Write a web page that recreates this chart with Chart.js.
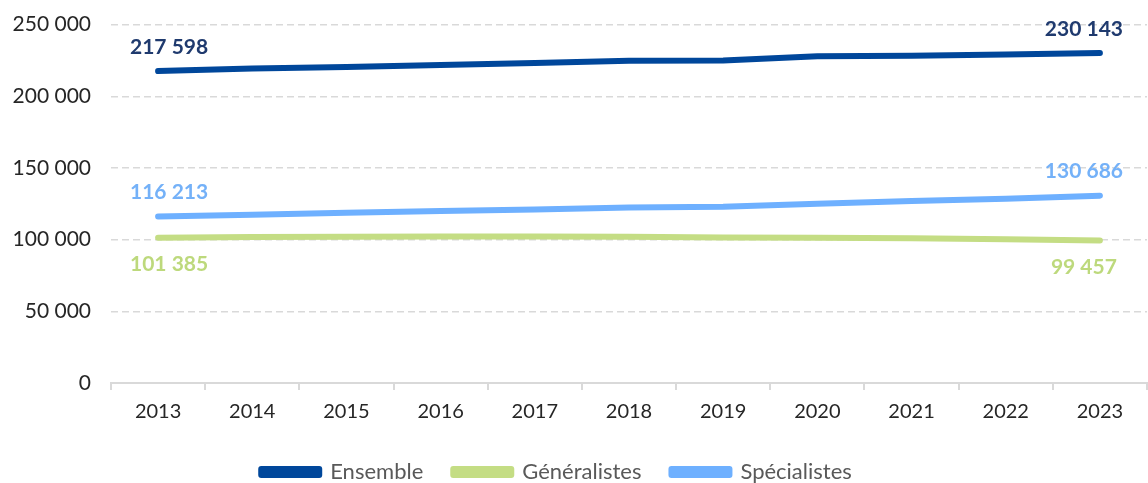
<!DOCTYPE html>
<html>
<head>
<meta charset="utf-8">
<script src="https://cdn.jsdelivr.net/npm/chart.js@4"></script>
<style>
  html, body { margin: 0; padding: 0; background: #fff; overflow: hidden; }
  #wrap { width: 1148px; height: 483px; }
</style>
</head>
<body>
<div id="wrap"><canvas id="medChart"></canvas></div>
<script>
    const years = ["2013", "2014", "2015", "2016", "2017", "2018", "2019", "2020", "2021", "2022", "2023"];
    const ensemble = [217598, 219400, 220500, 221900, 223300, 224700, 225000, 227900, 228200, 229100, 230143];
    const generalistes = [101385, 101900, 102100, 102200, 102200, 102100, 101500, 101300, 101000, 100300, 99457];
    const specialistes = [116213, 117400, 118700, 119900, 121100, 122400, 122900, 125100, 127000, 128600, 130686];
    const yTicks = [0, 50000, 100000, 150000, 200000, 250000];

    const fontFamily = "Lato, 'Noto Sans', sans-serif";

    function formatNumber(n) {
      return String(Math.round(n)).replace(/\B(?=(\d{3})+(?!\d))/g, " ");
    }

    // value labels on the first and last point of each line
    const endLabels = {
      id: "endLabels",
      afterDatasetsDraw(chart) {
        const ctx = chart.ctx;
        ctx.save();
        ctx.font = "bold 21px " + fontFamily;
        ctx.textAlign = "center";
        ctx.textBaseline = "middle";
        chart.data.datasets.forEach((ds, i) => {
          const meta = chart.getDatasetMeta(i);
          const last = ds.data.length - 1;
          [0, last].forEach(idx => {
            const pt = meta.data[idx];
            const dx = idx === 0 ? 11 : -16;
            ctx.fillStyle = ds.labelColor;
            ctx.fillText(formatNumber(ds.data[idx]), pt.x + dx, pt.y + ds.labelOffset);
          });
        });
        ctx.restore();
      }
    };

    // nudge the legend a little lower and to the left
    const legendShift = {
      id: "legendShift",
      afterLayout(chart) {
        const lg = chart.legend;
        lg.top += 10; lg.bottom += 10;
        lg.left -= 17; lg.right -= 17;
      }
    };

    new Chart(document.getElementById("medChart"), {
      type: "line",
      data: {
        labels: years,
        datasets: [
          {
            label: "Ensemble",
            data: ensemble,
            borderColor: "#00479b",
            backgroundColor: "#00479b",
            labelColor: "#1f3a6e",
            labelOffset: -24
          },
          {
            label: "Généralistes",
            data: generalistes,
            borderColor: "#c4dd84",
            backgroundColor: "#c4dd84",
            labelColor: "#bdd97c",
            labelOffset: 27
          },
          {
            label: "Spécialistes",
            data: specialistes,
            borderColor: "#6eb0ff",
            backgroundColor: "#6eb0ff",
            labelColor: "#74b1f8",
            labelOffset: -24
          }
        ]
      },
      options: {
        responsive: true,
        maintainAspectRatio: false,
        animation: false,
        layout: { padding: { top: 0, right: 1, left: 0, bottom: 0 } },
        elements: {
          line: { borderWidth: 6, tension: 0, borderCapStyle: "round", borderJoinStyle: "round" },
          point: { radius: 0, hoverRadius: 0 }
        },
        plugins: {
          legend: {
            position: "bottom",
            labels: {
              boxWidth: 58,
              boxHeight: 6,
              padding: 30,
              color: "#595959",
              font: { family: fontFamily, size: 22 }
            }
          },
          tooltip: { enabled: false }
        },
        scales: {
          x: {
            offset: true,
            grid: {
              offset: true,
              drawOnChartArea: false,
              drawTicks: true,
              tickLength: 7,
              color: "#d9d9d9",
              lineWidth: 2
            },
            border: { display: true, color: "#d9d9d9", width: 2 },
            ticks: {
              color: "#262626",
              padding: 10,
              font: { family: fontFamily, size: 20 }
            },
            afterFit(scale) { scale.height = 38; }
          },
          y: {
            min: 0,
            max: 250000,
            afterBuildTicks(scale) {
              scale.ticks = yTicks.map(v => ({ value: v }));
            },
            grid: {
              color: "#d9d9d9",
              lineWidth: 1.5,
              drawTicks: true,
              tickLength: 8,
              tickColor: "rgba(0,0,0,0)"
            },
            border: { display: false, dash: [7, 4] },
            ticks: {
              color: "#262626",
              padding: 12,
              font: { family: fontFamily, size: 21 },
              callback: function (value) {
                return formatNumber(value);
              }
            },
            afterFit(scale) { scale.width = 111; }
          }
        }
      },
      plugins: [endLabels, legendShift]
    });
</script>
</body>
</html>
